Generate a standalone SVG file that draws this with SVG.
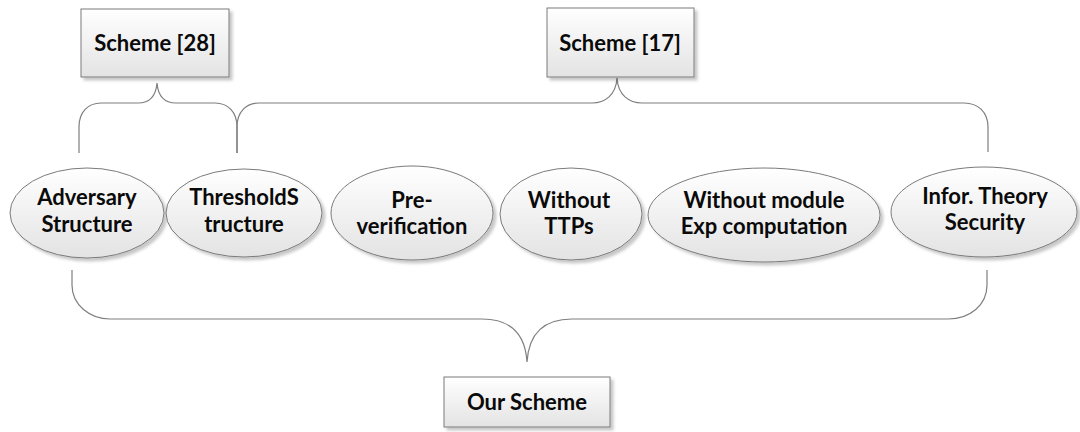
<svg xmlns="http://www.w3.org/2000/svg" width="1080" height="432" viewBox="0 0 1080 432">
<defs>
<linearGradient id="g" x1="0" y1="0" x2="0" y2="1">
<stop offset="0" stop-color="#ffffff"/>
<stop offset="1" stop-color="#e3e3e3"/>
</linearGradient>
<filter id="sh" x="-10%" y="-10%" width="125%" height="130%">
<feDropShadow dx="3" dy="3" stdDeviation="1.5" flood-color="#000" flood-opacity="0.22"/>
</filter>
<style>
.n{fill:url(#g);stroke:#7a7a7a;stroke-width:1;filter:url(#sh)}
.t{font-family:Lato,"Liberation Sans",sans-serif;font-weight:bold;font-size:22px;fill:#0a0a0a;text-anchor:middle}
.c{fill:none;stroke:#7f7f7f;stroke-width:1.2}
</style>
</defs>
<rect width="1080" height="432" fill="#fff"/>
<g id="connectors">
<path class="c" d="M79,153 V127 C79,112 88,103 101,103 H138 C150,103 156,95 157,83 C158,95 164,103 176,103 H215 C228,103 237,112 237,127 V153"/>
<path class="c" d="M237,153 V127 C237,112 246,103 259,103 H592 C605,103 616,95 617,78 C618,95 629,103 642,103 H964 C978,103 988,112 988,127 V152"/>
<path class="c" d="M72,270 V285 C72,305 90,319 110,319 H482 C507,319 525,330 527,362 C529,330 547,319 572,319 H948 C970,319 987,305 987,285 V270"/>
</g>
<g id="scheme28">
<rect class="n" x="81" y="9" width="148" height="68"/>
<text class="t" x="155" y="51">Scheme [28]</text>
</g>
<g id="scheme17">
<rect class="n" x="547" y="8" width="147" height="69"/>
<text class="t" x="620" y="51">Scheme [17]</text>
</g>
<g id="adversary">
<ellipse class="n" cx="87" cy="213" rx="77" ry="45"/>
<text class="t" x="87" y="205">Adversary</text>
<text class="t" x="87" y="232">Structure</text>
</g>
<g id="threshold">
<ellipse class="n" cx="244" cy="213" rx="78" ry="44"/>
<text class="t" x="244" y="205">ThresholdS</text>
<text class="t" x="244" y="232">tructure</text>
</g>
<g id="preverification">
<ellipse class="n" cx="412" cy="213" rx="81" ry="47"/>
<text class="t" x="412" y="208">Pre-</text>
<text class="t" x="412" y="234">verification</text>
</g>
<g id="withoutttps">
<ellipse class="n" cx="571" cy="214" rx="71" ry="46"/>
<text class="t" x="569" y="208">Without</text>
<text class="t" x="569" y="234">TTPs</text>
</g>
<g id="withoutmodule">
<ellipse class="n" cx="764" cy="215" rx="116" ry="47"/>
<text class="t" x="764" y="208">Without module</text>
<text class="t" x="764" y="234">Exp computation</text>
</g>
<g id="infor">
<ellipse class="n" cx="984" cy="212" rx="93" ry="45"/>
<text class="t" x="985" y="204">Infor. Theory</text>
<text class="t" x="985" y="230">Security</text>
</g>
<g id="ourscheme">
<rect class="n" x="444" y="377" width="166" height="50"/>
<text class="t" x="527" y="410">Our Scheme</text>
</g>
</svg>
